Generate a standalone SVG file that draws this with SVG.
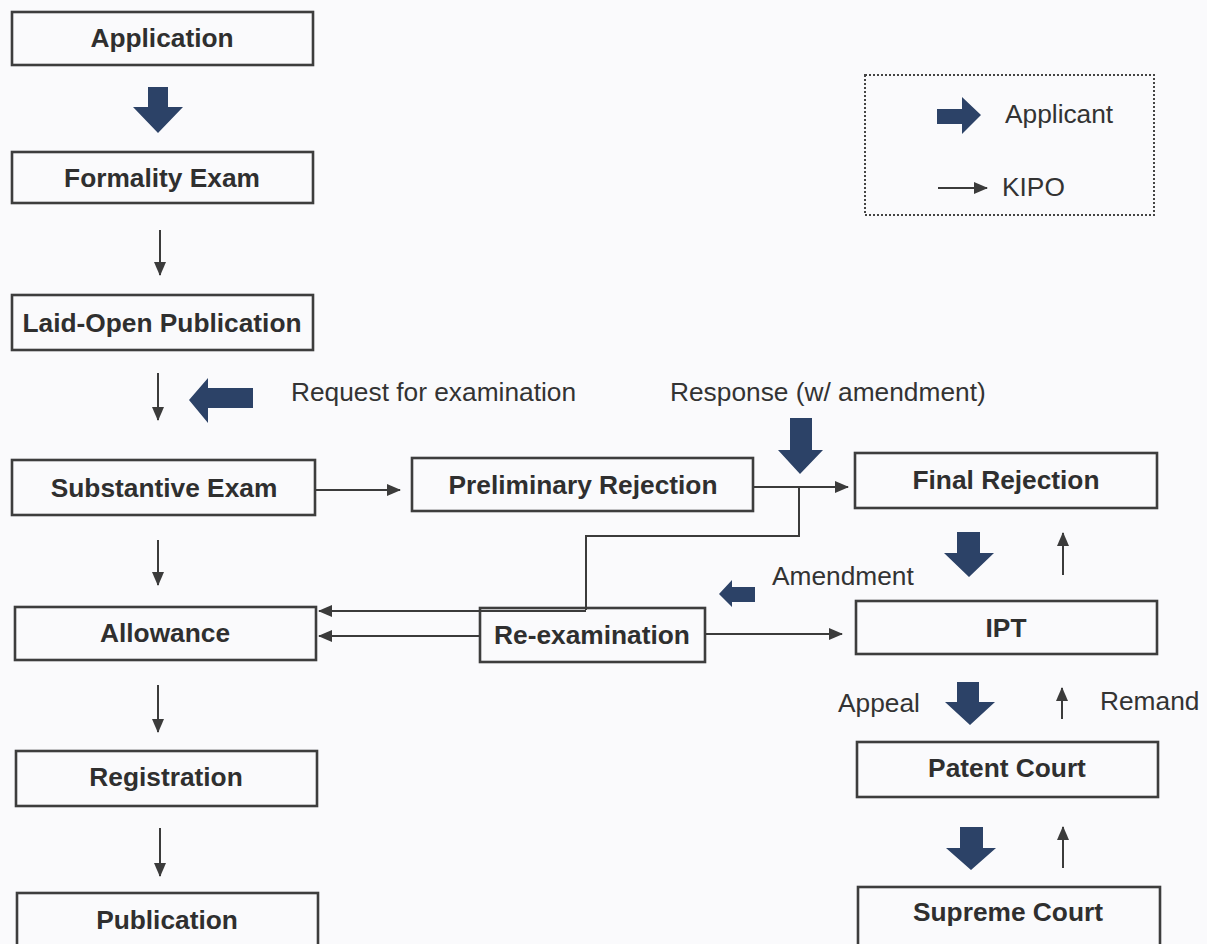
<svg xmlns="http://www.w3.org/2000/svg" width="1207" height="944" viewBox="0 0 1207 944">
<defs>
<marker id="ah" markerUnits="userSpaceOnUse" markerWidth="14" markerHeight="12" refX="13" refY="6" orient="auto">
<path d="M0,0 L14,6 L0,12 Z" fill="#3b3b3b"/>
</marker>
<style>
.box{fill:none;stroke:#3d3d3d;stroke-width:2.6}
.lbl{font-family:"Liberation Sans",Arial,sans-serif;font-weight:bold;font-size:26.3px;fill:#2f2f2f;text-anchor:middle}
.txt{font-family:"Liberation Sans",Arial,sans-serif;font-size:26.3px;fill:#333}
.ln{fill:none;stroke:#3b3b3b;stroke-width:2}
.arw{fill:none;stroke:#3b3b3b;stroke-width:2;marker-end:url(#ah)}
.big{fill:#2c4267}
</style>
</defs>
<rect width="1207" height="944" fill="#fafafc"/>

<g id="legend">
<rect x="865" y="75" width="289" height="140" fill="none" stroke="#444" stroke-width="2" stroke-dasharray="2,2"/>
<polygon class="big" points="937,109 962,109 962,97 981,115 962,134 962,124 937,124"/>
<text class="txt" x="1005" y="123">Applicant</text>
<line class="arw" x1="938" y1="188" x2="987" y2="188"/>
<text class="txt" x="1002" y="196">KIPO</text>
</g>

<g id="application"><rect class="box" x="12" y="12" width="301" height="53"/><text class="lbl" x="162" y="47">Application</text></g>
<g id="formality"><rect class="box" x="12" y="152" width="301" height="51"/><text class="lbl" x="162" y="187">Formality Exam</text></g>
<g id="laidopen"><rect class="box" x="12" y="295" width="301" height="55"/><text class="lbl" x="162" y="332">Laid-Open Publication</text></g>
<g id="substantive"><rect class="box" x="12" y="460" width="303" height="55"/><text class="lbl" x="164" y="497">Substantive Exam</text></g>
<g id="allowance"><rect class="box" x="15" y="607" width="301" height="53"/><text class="lbl" x="165" y="642">Allowance</text></g>
<g id="registration"><rect class="box" x="16" y="751" width="301" height="55"/><text class="lbl" x="166" y="786">Registration</text></g>
<g id="publication"><rect class="box" x="17" y="893" width="301" height="60"/><text class="lbl" x="167" y="929">Publication</text></g>
<g id="preliminary"><rect class="box" x="412" y="458" width="341" height="53"/><text class="lbl" x="583" y="494">Preliminary Rejection</text></g>
<g id="reexam"><rect class="box" x="480" y="608" width="225" height="54"/><text class="lbl" x="592" y="644">Re-examination</text></g>
<g id="final"><rect class="box" x="855" y="453" width="302" height="55"/><text class="lbl" x="1006" y="489">Final Rejection</text></g>
<g id="ipt"><rect class="box" x="856" y="601" width="301" height="53"/><text class="lbl" x="1006" y="637">IPT</text></g>
<g id="patentcourt"><rect class="box" x="857" y="742" width="301" height="55"/><text class="lbl" x="1007" y="777">Patent Court</text></g>
<g id="supremecourt"><rect class="box" x="858" y="887" width="302" height="60"/><text class="lbl" x="1008" y="921">Supreme Court</text></g>

<g id="connectors">
<polygon class="big" points="148,87 168,87 168,107 183,107 158,133 133,107 148,107"/>
<line class="arw" x1="160" y1="230" x2="160" y2="275"/>
<line class="arw" x1="158" y1="373" x2="158" y2="420"/>
<polygon class="big" points="253,388 253,408 208,408 208,423 189,400 208,378 208,388"/>
<line class="arw" x1="158" y1="540" x2="158" y2="585"/>
<line class="arw" x1="158" y1="685" x2="158" y2="732"/>
<line class="arw" x1="160" y1="828" x2="160" y2="876"/>
<line class="arw" x1="315" y1="490" x2="400" y2="490"/>
<polygon class="big" points="790,418 812,418 812,450 823,450 800,474 778,450 790,450"/>
<line class="arw" x1="753" y1="487" x2="848" y2="487"/>
<path class="ln" d="M799,487 V536 H586 V610"/>
<line class="arw" x1="586" y1="611" x2="319" y2="611"/>
<line class="arw" x1="480" y1="636" x2="319" y2="636"/>
<line class="arw" x1="705" y1="634" x2="842" y2="634"/>
<polygon class="big" points="755,587 755,602 732,602 732,607 719,594 732,580 732,587"/>
<polygon class="big" points="957,532 980,532 980,553 994,553 969,577 944,553 957,553"/>
<line class="arw" x1="1063" y1="575" x2="1063" y2="533"/>
<polygon class="big" points="957,682 979,682 979,702 995,702 970,725 945,702 957,702"/>
<line class="arw" x1="1062" y1="719" x2="1062" y2="688"/>
<polygon class="big" points="960,827 983,827 983,848 996,848 971,870 946,848 960,848"/>
<line class="arw" x1="1063" y1="868" x2="1063" y2="827"/>
</g>

<text class="txt" x="291" y="401">Request for examination</text>
<text class="txt" x="670" y="401">Response (w/ amendment)</text>
<text class="txt" x="772" y="585">Amendment</text>
<text class="txt" x="838" y="712">Appeal</text>
<text class="txt" x="1100" y="710">Remand</text>
</svg>
